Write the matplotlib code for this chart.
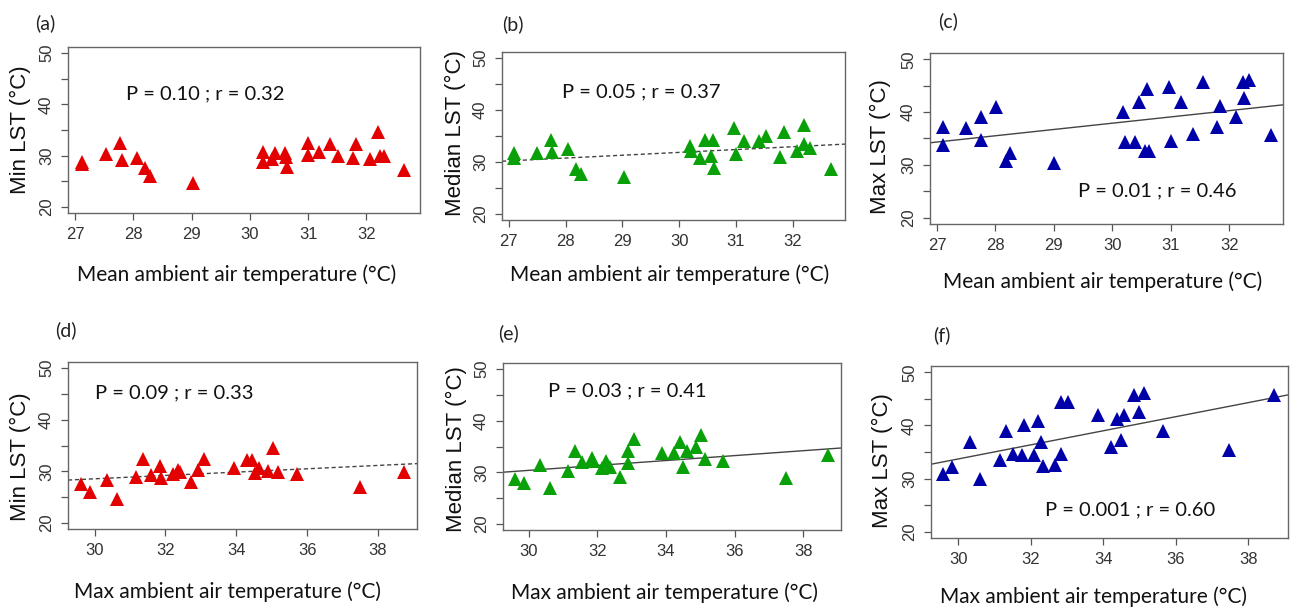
import matplotlib
matplotlib.use("Agg")
import matplotlib.pyplot as plt

# mean ambient air temperature (top row) and LST
mean_air_a = [27.12, 27.12, 27.53, 27.78, 27.80, 28.06, 28.20, 28.29, 29.03, 30.22, 30.22,
              30.38, 30.44, 30.60, 30.62, 30.64, 31.00, 31.00, 31.18, 31.38, 31.52, 31.77,
              31.83, 32.06, 32.20, 32.23, 32.31, 32.65]
min_lst_a = [28.8, 28.3, 30.3, 32.5, 29.1, 29.5, 27.5, 26.0, 24.7, 30.8, 28.7,
             29.4, 30.6, 30.5, 29.7, 27.7, 32.5, 30.2, 30.7, 32.2, 29.9, 29.5,
             32.3, 29.4, 34.6, 29.9, 29.9, 27.2]

mean_air_b = [27.10, 27.10, 27.49, 27.75, 27.76, 28.05, 28.19, 28.27, 29.02, 30.19, 30.20,
              30.37, 30.45, 30.59, 30.56, 30.62, 30.97, 31.00, 31.15, 31.40, 31.53, 31.78,
              31.85, 32.07, 32.20, 32.20, 32.30, 32.68]
median_lst_b = [31.8, 30.7, 31.8, 34.3, 32.0, 32.5, 28.7, 27.7, 27.0, 33.1, 32.2,
                30.7, 34.3, 34.3, 31.1, 28.9, 36.5, 31.6, 34.0, 34.0, 35.0, 31.0,
                35.8, 32.2, 37.2, 33.5, 32.6, 28.7]

mean_air_c = [27.10, 27.10, 27.49, 27.76, 27.76, 28.01, 28.18, 28.25, 29.00, 30.19, 30.22,
              30.38, 30.45, 30.60, 30.56, 30.63, 30.97, 31.01, 31.17, 31.38, 31.55, 31.79,
              31.85, 32.11, 32.24, 32.34, 32.25, 32.71]
max_lst_c = [37.2, 33.7, 37.0, 39.1, 34.7, 40.9, 30.8, 32.2, 30.3, 40.1, 34.4,
             34.4, 42.0, 44.4, 32.6, 32.6, 44.7, 34.6, 42.0, 35.8, 45.8, 37.2,
             41.2, 39.1, 45.8, 46.0, 42.6, 35.6]

# max ambient air temperature (bottom row)
max_air_d = [29.62, 29.88, 30.35, 30.63, 31.18, 31.38, 31.60, 31.84, 31.88, 32.20, 32.35,
             32.41, 32.72, 32.93, 33.10, 33.93, 34.29, 34.45, 34.54, 34.63, 34.90, 35.04,
             35.18, 35.71, 37.49, 38.73]
min_lst_d = [27.6, 25.9, 28.4, 24.7, 28.9, 32.4, 29.2, 31.0, 28.6, 29.5, 30.3,
             29.9, 27.9, 30.2, 32.4, 30.6, 32.1, 32.2, 29.7, 30.6, 30.0, 34.5,
             29.8, 29.5, 26.9, 29.8]

max_air_e = [29.61, 29.86, 30.34, 30.61, 31.15, 31.34, 31.56, 31.83, 31.88, 32.14, 32.24,
             32.36, 32.67, 32.88, 32.90, 33.06, 33.89, 34.24, 34.40, 34.50, 34.60, 34.86,
             35.02, 35.14, 35.67, 37.49, 38.73]
median_lst_e = [28.7, 28.0, 31.4, 27.0, 30.3, 34.2, 31.9, 32.7, 32.2, 30.8, 32.2,
                31.1, 29.0, 34.2, 31.8, 36.4, 33.8, 33.8, 35.8, 31.1, 34.2, 35.0,
                37.3, 32.6, 32.2, 28.8, 33.4]

max_air_f = [29.59, 29.84, 30.33, 30.60, 31.15, 31.33, 31.52, 31.75, 31.82, 32.10, 32.21,
             32.29, 32.33, 32.67, 32.85, 32.85, 33.04, 33.85, 34.21, 34.38, 34.49, 34.58,
             34.84, 35.00, 35.13, 35.66, 37.48, 38.72]
max_lst_f = [30.8, 32.2, 36.9, 30.0, 33.4, 38.9, 34.7, 34.4, 40.0, 34.4, 40.9,
             36.9, 32.4, 32.6, 34.6, 44.4, 44.4, 41.9, 35.9, 41.3, 37.2, 41.9,
             45.8, 42.5, 46.1, 38.9, 35.3, 45.8]

# fitted lines (intercept, slope)
fit_b = (15.46, 0.546)
fit_c = (2.2, 1.19)
fit_d = (18.82, 0.324)
fit_e = (16.06, 0.477)
fit_f = (-6.09, 1.326)

stats_text = ["P = 0.10 ; r = 0.32", "P = 0.05 ; r = 0.37", "P = 0.01 ; r = 0.46",
              "P = 0.09 ; r = 0.33", "P = 0.03 ; r = 0.41", "P = 0.001 ; r = 0.60"]
y_labels = ["Min LST (°C)", "Median LST (°C)", "Max LST (°C)"] * 2
x_labels = ["Mean ambient air temperature (°C)"] * 3 + ["Max ambient air temperature (°C)"] * 3
panel_tags = ["(a)", "(b)", "(c)", "(d)", "(e)", "(f)"]

RED, GREEN, BLUE = "#E20000", "#0AA00A", "#0000A8"
W, H = 1290, 609

plt.rcParams["font.family"] = ["Liberation Sans", "DejaVu Sans"]

panels = [
    # x, y, fit, line style, colour, box px (l, t, r, b), stats text position
    (mean_air_a, min_lst_a, None, None, RED, (68, 47, 420, 213), (27.88, 42.0)),
    (mean_air_b, median_lst_b, fit_b, (0, (3, 2)), GREEN, (502, 52, 845, 220), (27.94, 43.5)),
    (mean_air_c, max_lst_c, fit_c, "-", BLUE, (930, 53, 1283, 224), (29.41, 25.0)),
    (max_air_d, min_lst_d, fit_d, (0, (3, 2)), RED, (68, 362, 417, 529), (30.02, 45.3)),
    (max_air_e, median_lst_e, fit_e, "-", GREEN, (503, 363, 841, 530), (30.56, 45.8)),
    (max_air_f, max_lst_f, fit_f, "-", BLUE, (931, 366, 1288, 538), (32.40, 24.1)),
]
xlims = [(26.88, 32.92)] * 3 + [(29.25, 39.1)] * 3
xticks = [[27, 28, 29, 30, 31, 32]] * 3 + [[30, 32, 34, 36, 38]] * 3

# label positions in pixels
tag_pos = [(35, 23), (502, 24), (938, 21), (55, 330), (498, 333), (933, 335)]
xlab_pos = [(237, 275), (670, 275), (1103, 282), (227, 592), (664, 593), (1094, 597)]
ylab_pos = [(20, 130), (455, 133), (880, 147), (20, 457), (456, 449), (882, 461)]

TEXT_FONT = ["Lato", "DejaVu Sans"]

fig = plt.figure(figsize=(W / 100, H / 100), dpi=100)

for i, (xs, ys, fit, ls, color, box, spos) in enumerate(panels):
    l, t, r, b = box
    ax = fig.add_axes([l / W, 1 - b / H, (r - l) / W, (b - t) / H])
    ax.plot(xs, ys, linestyle="none", marker="^", markersize=9.5, color=color,
            markeredgewidth=0, zorder=3)
    if fit is not None:
        ax.axline((0, fit[0]), slope=fit[1], color="#444444", linewidth=1.0,
                  linestyle=ls, zorder=2)
    ax.set_xlim(*xlims[i])
    ax.set_ylim(18.8, 51.2)
    ax.set_xticks(xticks[i])
    ax.set_yticks([20, 30, 40, 50])
    ax.set_yticks([25, 35, 45], minor=True)
    ax.tick_params(axis="both", which="both", direction="out", length=5, width=0.9,
                   colors="#555555", labelcolor="#333333", pad=5)
    ax.tick_params(axis="x", labelsize=12)
    ax.tick_params(axis="y", labelsize=12)
    ax.tick_params(axis="y", which="minor", labelleft=False)
    for lab in ax.get_yticklabels():
        lab.set_rotation(90)
        lab.set_verticalalignment("center")
    for sp in ax.spines.values():
        sp.set_color("#666666")
        sp.set_linewidth(1.0)
    ax.text(spos[0], spos[1], stats_text[i], ha="left", va="center", fontsize=14.5,
            family=TEXT_FONT, color="#111111")

    tx, ty = tag_pos[i]
    fig.text(tx / W, 1 - ty / H, panel_tags[i], ha="left", va="center", fontsize=14,
             family=TEXT_FONT, color="#222222")
    lx, ly = xlab_pos[i]
    fig.text(lx / W, 1 - ly / H, x_labels[i], ha="center", va="center", fontsize=15,
             family=TEXT_FONT, color="#111111")
    yx, yy = ylab_pos[i]
    fig.text(yx / W, 1 - yy / H, y_labels[i], ha="center", va="center", rotation=90,
             fontsize=16, color="#111111")

fig.savefig("out.png", dpi=100)
